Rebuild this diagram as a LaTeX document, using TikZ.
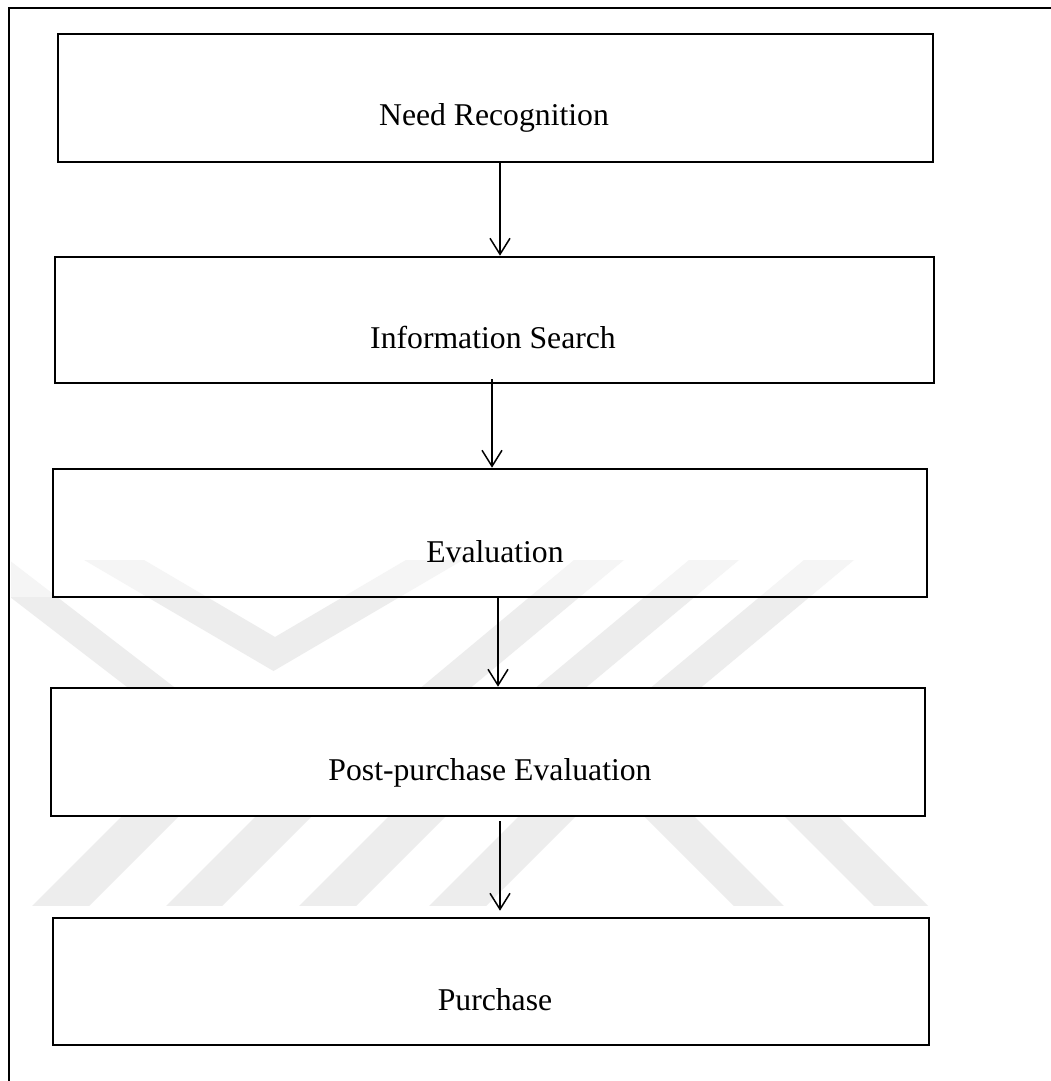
\documentclass[tikz,border=0pt]{standalone}
\usepackage{fontspec}
\setmainfont{Liberation Serif}
\usetikzlibrary{arrows.meta,calc}

\tikzset{
  stepbox/.style={draw=black, line width=2.6pt, inner sep=0pt, fill=none},
  steptext/.style={anchor=base, inner sep=0pt, font=\fontsize{31.7}{38}\selectfont},
  flow/.style={line width=1.5pt, -{Straight Barb[length=16pt,width=20pt,line width=1.5pt]}},
  band/.style={fill=black!7, draw=none},
  faintband/.style={fill=black!4, draw=none},
}

\begin{document}
\begin{tikzpicture}[x=1pt, y=-1pt]
\useasboundingbox (0,0) rectangle (1051,1081);
\fill[white] (0,0) rectangle (1051,1081);

% light diagonal bands in the background
\def\upperbands#1{%
  \fill[#1] (-64,540) -- (-17,540) -- (191,700) -- (144,700) -- cycle;
  \fill[#1] (50,540) -- (110,540) -- (275,637) -- (440,540) -- (497,540) -- (273.5,671) -- cycle;
  \fill[#1] (598,540) -- (648,540) -- (456,700) -- (406,700) -- cycle;
  \fill[#1] (713,540) -- (763,540) -- (571,700) -- (521,700) -- cycle;
  \fill[#1] (828,540) -- (878,540) -- (686,700) -- (636,700) -- cycle;
}
\begin{scope}
  \clip (11,560) rectangle (950,597);
  \upperbands{faintband}
\end{scope}
\begin{scope}
  \clip (11,597) rectangle (950,688);
  \upperbands{band}
\end{scope}
\begin{scope}
  \clip (11,816) rectangle (950,905);
  \fill[band] (138,800) -- (195,800) -- (75,920) -- (18,920) -- cycle;
  \fill[band] (272,800) -- (328,800) -- (208,920) -- (152,920) -- cycle;
  \fill[band] (405,800) -- (462,800) -- (342,920) -- (285,920) -- cycle;
  \fill[band] (535,800) -- (592,800) -- (472,920) -- (415,920) -- cycle;
  \fill[band] (628,800) -- (678,800) -- (798,920) -- (748,920) -- cycle;
  \fill[band] (768,800) -- (822,800) -- (942,920) -- (888,920) -- cycle;
\end{scope}

% page frame
\draw[line width=2.4pt] (1060,8) -- (9,8) -- (9,1090);

% process steps
\node[stepbox, minimum width=875pt, minimum height=128pt] (need)  at (495.5,98)  {};
\node[stepbox, minimum width=879pt, minimum height=126pt] (info)  at (494.5,320) {};
\node[stepbox, minimum width=874pt, minimum height=128pt] (eval)  at (490,533)   {};
\node[stepbox, minimum width=874pt, minimum height=128pt] (post)  at (488,752)   {};
\node[stepbox, minimum width=876pt, minimum height=127pt] (purch) at (491,981.5) {};

\node[steptext] (needtxt)  at (494,125)  {Need Recognition};
\node[steptext] (infotxt)  at (493,348)  {Information Search};
\node[steptext] (evaltxt)  at (495,562)  {Evaluation};
\node[steptext] (posttxt)  at (490,780)  {Post-purchase Evaluation};
\node[steptext] (purchtxt) at (495,1010) {Purchase};

% connectors
\coordinate (c1) at (500,0);
\coordinate (c2) at (492,0);
\coordinate (c3) at (498,0);
\coordinate (c4) at (500,0);
\draw[flow] (need.south -| c1) -- (info.north -| c1);
\draw[flow, shorten <=-5pt] (info.south -| c2) -- (eval.north -| c2);
\draw[flow] (eval.south -| c3) -- (post.north -| c3);
\draw[flow, shorten <=4pt, shorten >=6pt] (post.south -| c4) -- (purch.north -| c4);
\end{tikzpicture}
\end{document}
